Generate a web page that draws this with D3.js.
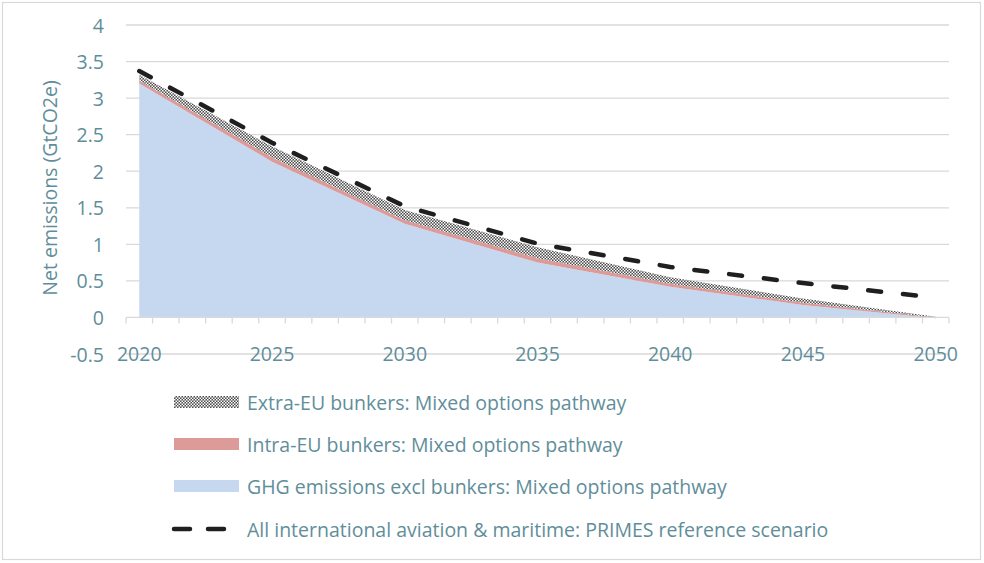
<!DOCTYPE html>
<html>
<head>
<meta charset="utf-8">
<script src="https://cdn.jsdelivr.net/npm/d3@7"></script>
<style>
  body { margin: 0; background: #fff; }
  svg text { font-family: "Open Sans", "Noto Sans", sans-serif; fill: #5f8e9a; }
</style>
</head>
<body>
<div id="chart"></div>
<script>
// category axis: every year 2020..2050, labelled each 5 years
var years = d3.range(2020, 2051);
var tick_labels = [2020, 2025, 2030, 2035, 2040, 2045, 2050];

// data points (5-year steps), GtCO2e
var data_years = [2020, 2025, 2030, 2035, 2040, 2045, 2050];
var ghg_excl = [3.20, 2.13, 1.28, 0.75, 0.42, 0.17, -0.01];
var intra_eu = [0.04, 0.06, 0.05, 0.06, 0.04, 0.03, 0.01];
var extra_eu = [0.08, 0.15, 0.14, 0.15, 0.09, 0.06, 0.01];
var primes_ref = [3.37, 2.39, 1.52, 1.01, 0.69, 0.47, 0.27];

var y_ticks = [-0.5, 0, 0.5, 1, 1.5, 2, 2.5, 3, 3.5, 4];

var legend_labels = [
    "Extra-EU bunkers: Mixed options pathway",
    "Intra-EU bunkers: Mixed options pathway",
    "GHG emissions excl bunkers: Mixed options pathway",
    "All international aviation & maritime: PRIMES reference scenario"
];

var W = 984, H = 563;
var margin = {top: 25, right: 35, bottom: 209, left: 126};

var svg = d3.select("#chart").append("svg")
    .attr("width", W).attr("height", H);

var defs = svg.append("defs");
var pat = defs.append("pattern")
    .attr("id", "hatch")
    .attr("patternUnits", "userSpaceOnUse")
    .attr("width", 3).attr("height", 3);
pat.append("rect").attr("width", 3).attr("height", 3).attr("fill", "#4a4a4a");
pat.append("rect").attr("x", 0).attr("y", 0).attr("width", 1.5).attr("height", 1.5).attr("fill", "#fff");
pat.append("rect").attr("x", 1.5).attr("y", 1.5).attr("width", 1.5).attr("height", 1.5).attr("fill", "#fff");

// outer frame
svg.append("rect")
    .attr("x", 2.5).attr("y", 2.5)
    .attr("width", W - 6).attr("height", H - 6)
    .attr("fill", "none").attr("stroke", "#d9d9d9").attr("stroke-width", 1.2);

var x = d3.scaleBand().domain(years).range([margin.left, W - margin.right]).padding(0);
var y = d3.scaleLinear().domain([-0.5, 4]).range([H - margin.bottom, margin.top]);
var cx = d => x(d) + x.bandwidth() / 2;

// grid
svg.append("g").selectAll("line")
    .data(y_ticks.filter(v => v != 0))
    .enter().append("line")
    .attr("x1", margin.left).attr("x2", W - margin.right)
    .attr("y1", d => y(d)).attr("y2", d => y(d))
    .attr("stroke", "#d9d9d9").attr("stroke-width", 1.3);

// stacked areas
var rows = data_years.map((yr, i) => ({
    yr: yr,
    a: ghg_excl[i],
    b: ghg_excl[i] + intra_eu[i],
    c: ghg_excl[i] + intra_eu[i] + extra_eu[i]
}));

var area = (lo, hi) => d3.area().x(d => cx(d.yr)).y0(d => y(lo(d))).y1(d => y(hi(d)));

svg.append("path").attr("d", area(d => 0, d => d.a)(rows)).attr("fill", "#c6d8ef");
svg.append("path").attr("d", area(d => d.a, d => d.b)(rows)).attr("fill", "#dc9a98");
svg.append("path").attr("d", area(d => d.b, d => d.c)(rows)).attr("fill", "url(#hatch)");

// x axis (zero line) with a tick at every category boundary
var x_axis = svg.append("g");
x_axis.append("line")
    .attr("x1", margin.left).attr("x2", W - margin.right)
    .attr("y1", y(0)).attr("y2", y(0))
    .attr("stroke", "#d9d9d9").attr("stroke-width", 1.3);
x_axis.selectAll(".tk")
    .data(years.concat([2051]))
    .enter().append("line")
    .attr("x1", d => d == 2051 ? W - margin.right : x(d))
    .attr("x2", d => d == 2051 ? W - margin.right : x(d))
    .attr("y1", y(0)).attr("y2", y(0) + 6)
    .attr("stroke", "#d9d9d9").attr("stroke-width", 1.3);

// PRIMES dashed line
var line = d3.line().x((d, i) => cx(data_years[i])).y(d => y(d));
svg.append("path")
    .attr("d", line(primes_ref))
    .attr("fill", "none").attr("stroke", "#1f1f1f")
    .attr("stroke-width", 4.5)
    .attr("stroke-dasharray", "13,22")
    .attr("stroke-linecap", "round");

// tick labels
svg.append("g").selectAll("text")
    .data(tick_labels)
    .enter().append("text")
    .attr("x", d => cx(d)).attr("y", y(-0.5) - 1)
    .attr("text-anchor", "middle")
    .attr("dominant-baseline", "central")
    .style("font-size", "19.5px")
    .text(d => d);

svg.append("g").selectAll("text")
    .data(y_ticks)
    .enter().append("text")
    .attr("x", 104).attr("y", d => y(d))
    .attr("text-anchor", "end")
    .attr("dominant-baseline", "central")
    .style("font-size", "19.5px")
    .text(d => d);

svg.append("text")
    .attr("transform", "translate(49," + 188 + ") rotate(-90)")
    .attr("text-anchor", "middle")
    .attr("dominant-baseline", "central")
    .style("font-size", "19.5px")
    .text("Net emissions (GtCO2e)");

// legend
var leg_y = [402, 444, 486, 529];
svg.append("rect").attr("x", 174).attr("y", leg_y[0] - 6).attr("width", 65).attr("height", 12).attr("fill", "url(#hatch)");
svg.append("rect").attr("x", 174).attr("y", leg_y[1] - 6).attr("width", 65).attr("height", 12).attr("fill", "#dc9a98");
svg.append("rect").attr("x", 174).attr("y", leg_y[2] - 6).attr("width", 65).attr("height", 12).attr("fill", "#c6d8ef");
svg.append("line")
    .attr("x1", 174).attr("x2", 226).attr("y1", leg_y[3]).attr("y2", leg_y[3])
    .attr("stroke", "#1f1f1f").attr("stroke-width", 4.5)
    .attr("stroke-dasharray", "16,18").attr("stroke-linecap", "round");

svg.append("g").selectAll("text")
    .data(legend_labels)
    .enter().append("text")
    .attr("x", 247).attr("y", (d, i) => leg_y[i])
    .attr("dominant-baseline", "central")
    .style("font-size", "19.5px")
    .text(d => d);
</script>
</body>
</html>
